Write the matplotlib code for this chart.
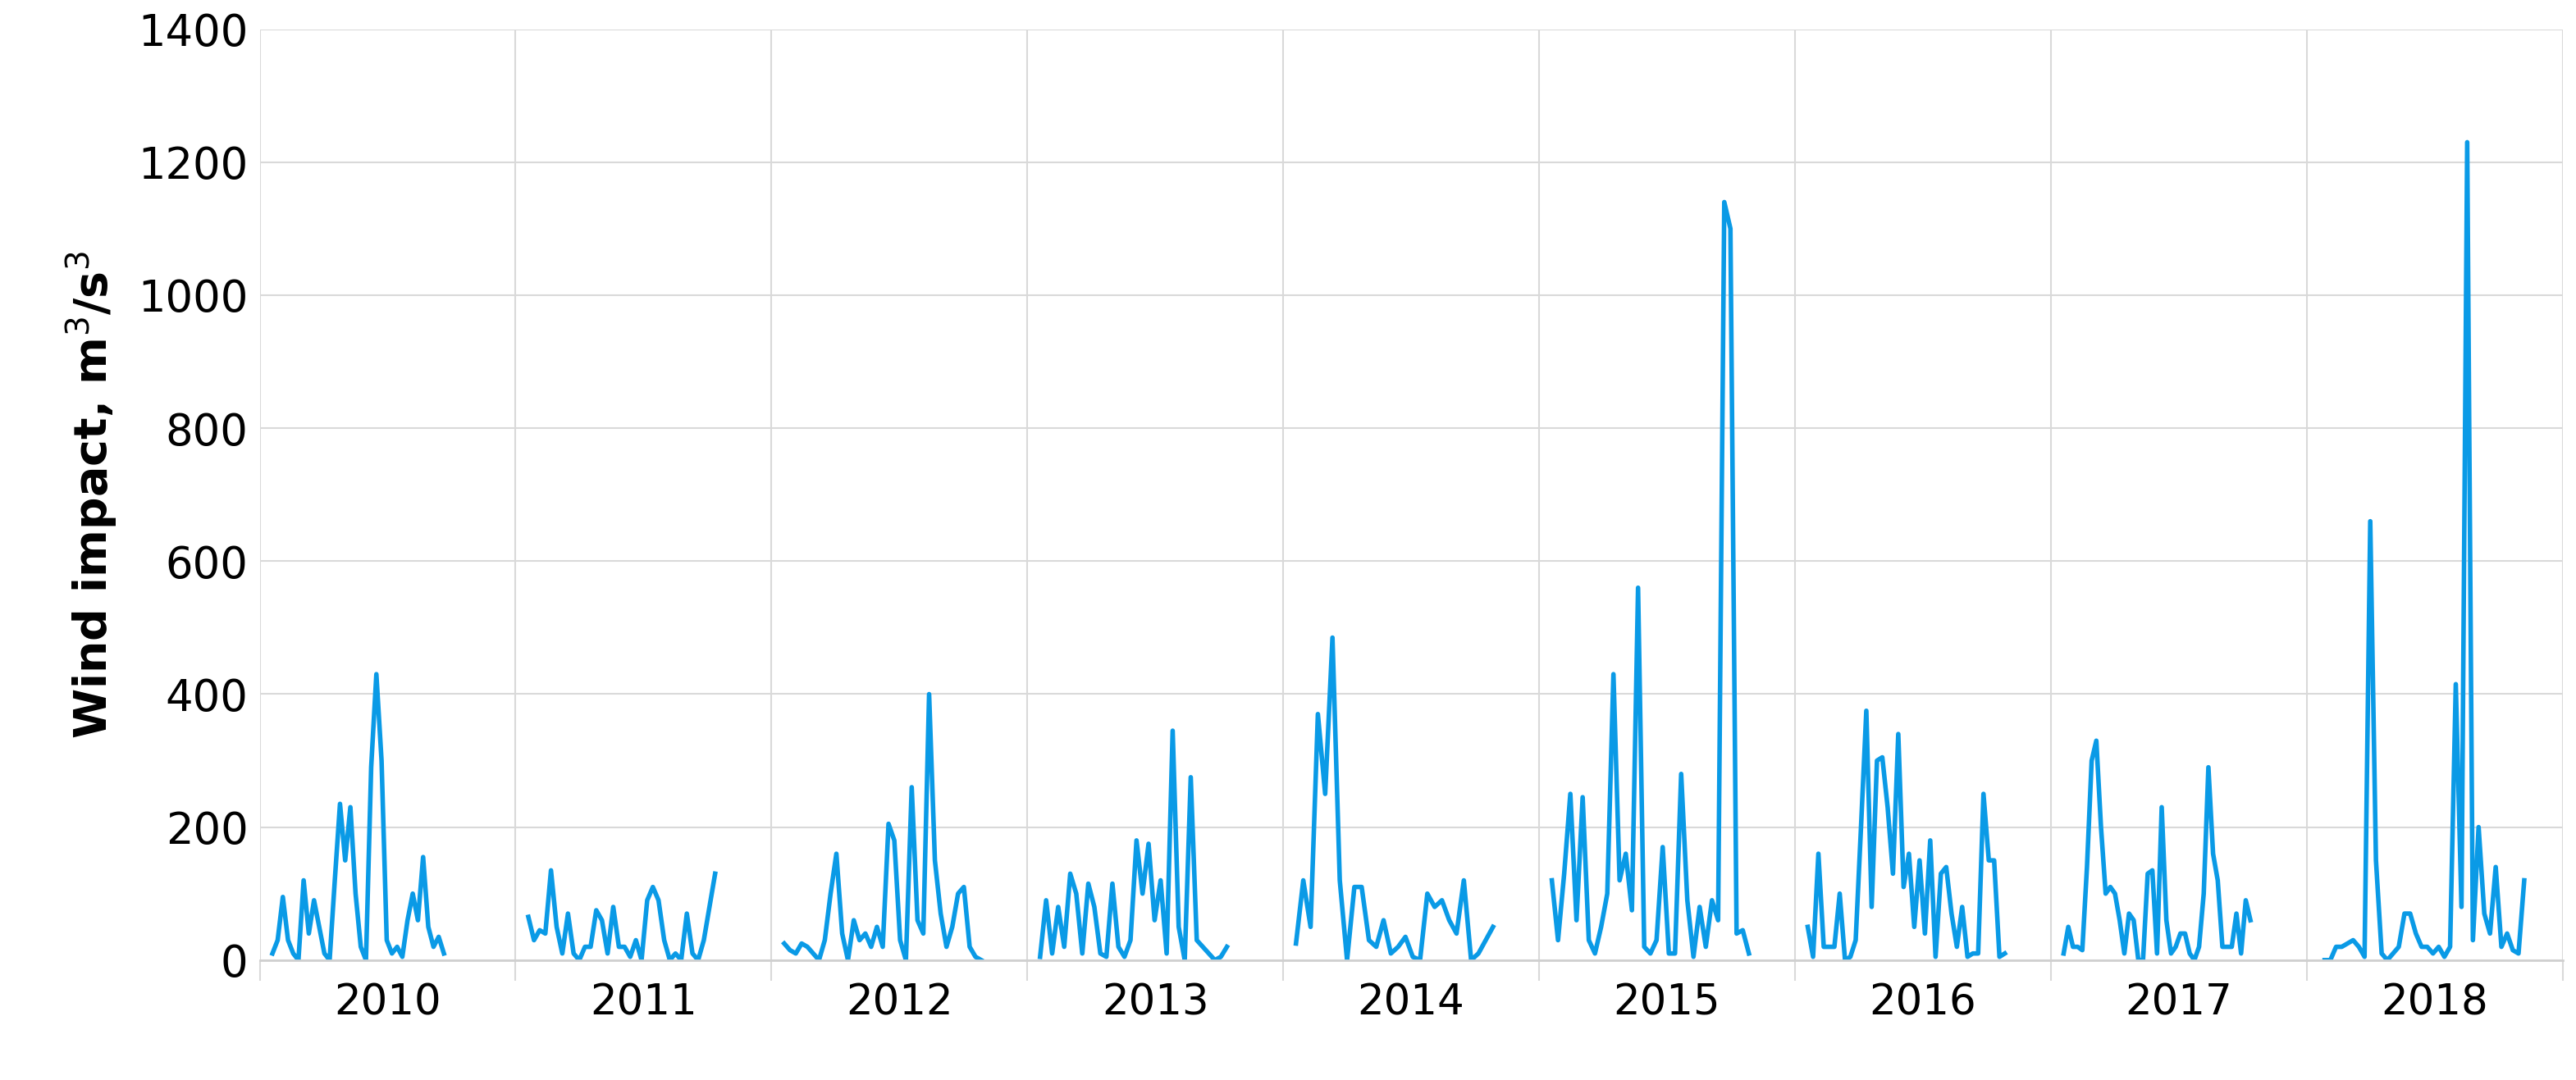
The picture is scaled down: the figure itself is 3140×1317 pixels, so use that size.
import matplotlib
matplotlib.use("Agg")
import matplotlib.pyplot as plt
import numpy as np

years = [2010, 2011, 2012, 2013, 2014, 2015, 2016, 2017, 2018]
v2010 = [10,30,95,30,10,0,120,40,90,50,10,0,120,235,150,230,100,20,0,290,430,300,30,10,20,5,60,100,60,155,50,20,35,10]
v2011 = [65,30,45,40,135,50,10,70,10,0,20,20,75,60,10,80,20,20,5,30,0,90,110,90,30,0,10,0,70,10,0,30,80,130]
v2012 = [25,15,10,25,20,10,0,30,100,160,40,0,60,30,40,20,50,20,205,180,30,0,260,60,40,400,150,70,20,50,100,110,20,5,0]
v2013 = [5,90,10,80,20,130,100,10,115,80,10,5,115,20,5,30,180,100,175,60,120,10,345,50,0,275,30,20,10,0,5,20]
v2014 = [25,120,50,370,250,485,120,0,110,110,30,20,60,10,20,35,5,0,100,80,90,60,40,120,0,10,30,50]
v2015 = [120,30,130,250,60,245,30,10,50,100,430,120,160,75,560,20,10,30,170,10,10,280,90,5,80,20,90,60,1140,1100,40,45,10]
v2016 = [50,5,160,20,20,20,100,0,5,30,200,375,80,300,305,230,130,340,110,160,50,150,40,180,5,130,140,70,20,80,5,10,10,250,150,150,5,10]
v2017 = [10,50,20,20,15,140,300,330,200,100,110,100,60,10,70,60,0,0,130,135,10,230,60,10,20,40,40,10,0,20,100,290,160,120,20,20,20,70,10,90,60]
v2018 = [0,0,20,20,25,30,20,5,660,150,10,0,10,20,70,70,40,20,20,10,20,5,20,415,80,1230,30,200,70,40,140,20,40,15,10,120]
series = [v2010, v2011, v2012, v2013, v2014, v2015, v2016, v2017, v2018]
season_start = [0.05, 0.05, 0.05, 0.05, 0.05, 0.05, 0.05, 0.05, 0.07]
season_end = [0.72, 0.78, 0.82, 0.78, 0.82, 0.82, 0.82, 0.78, 0.85]

fig = plt.figure(figsize=(31.4, 13.17), dpi=100)
ax = fig.add_axes([0.1008, 0.111, 0.894, 0.862])
for i, (y, vals) in enumerate(zip(years, series)):
    x = np.linspace(i + season_start[i], i + season_end[i], len(vals))
    ax.plot(x, vals, color="#0a9ae6", lw=4, solid_joinstyle="round")

ax.set_xlim(0, len(years))
ax.set_ylim(0, 1400)
ax.set_yticks(range(0, 1401, 200))
ax.set_xticks(range(0, len(years) + 1))
ax.set_xticklabels([])
ax.set_xticks(np.arange(len(years)) + 0.5, minor=True)
ax.set_xticklabels([str(y) for y in years], minor=True)
ax.tick_params(axis="x", which="minor", length=0, labelsize=37, pad=20)
ax.tick_params(axis="x", which="major", length=18, color="#d9d9d9", width=1.5)
ax.tick_params(axis="y", length=0, labelsize=38, pad=10)
ax.grid(True, which="major", color="#d9d9d9", lw=1.5)
for s in ["top", "right", "left"]:
    ax.spines[s].set_visible(False)
ax.spines["bottom"].set_color("#d0d0d0")
ax.spines["bottom"].set_linewidth(2)
ax.set_ylabel("Wind impact, m$^3$/s$^3$", fontsize=40, fontweight="bold", labelpad=16)
fig.savefig("out.png", dpi=100)
